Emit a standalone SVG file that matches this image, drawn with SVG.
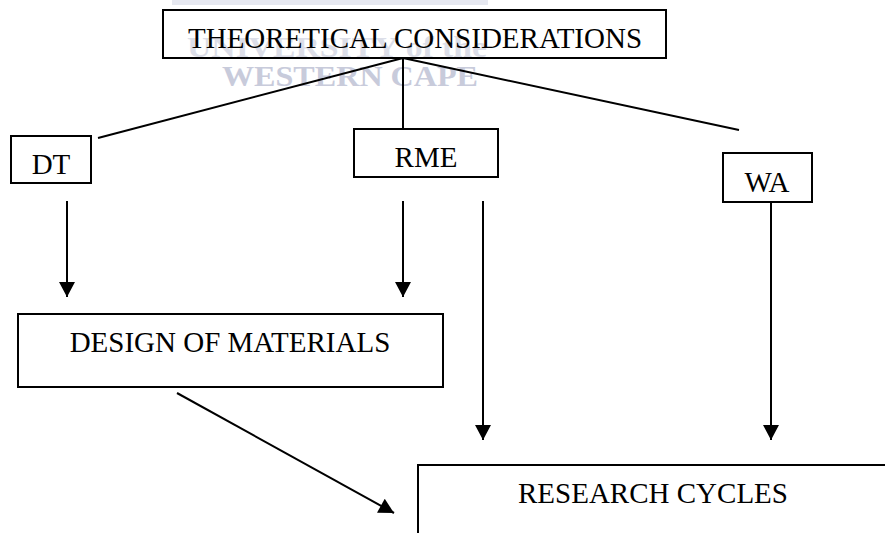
<svg xmlns="http://www.w3.org/2000/svg" width="885" height="533" viewBox="0 0 885 533">
<defs>
<style>
.box{fill:none;stroke:#000;stroke-width:2}
.lbl{font-family:"Liberation Serif","Times New Roman",serif;font-size:29px;fill:#000;text-anchor:middle}
.wm{font-family:"Liberation Serif","Times New Roman",serif;font-size:29px;font-weight:bold;fill:#c8cbdb}
.ln{stroke:#000;stroke-width:2;fill:none}
.arr{stroke:#000;stroke-width:2;fill:none;marker-end:url(#ah)}
</style>
<marker id="ah" markerUnits="userSpaceOnUse" markerWidth="16" markerHeight="16" viewBox="0 0 15 16" refX="15" refY="8" orient="auto">
<path d="M0,0 L15,8 L0,16 Z" fill="#000"/>
</marker>
</defs>
<rect x="0" y="0" width="885" height="533" fill="#fff"/>
<g id="watermark">
<rect x="172" y="0" width="316" height="5" fill="#e6e8f0"/>
<text class="wm" x="187" y="57" textLength="300" lengthAdjust="spacingAndGlyphs" style="fill:#dcdee8">UNIVERSITY of the</text>
<text class="wm" x="222" y="86" textLength="256" lengthAdjust="spacingAndGlyphs">WESTERN CAPE</text>
</g>
<g id="connectors">
<line class="ln" x1="403" y1="58" x2="98" y2="138"/>
<line class="ln" x1="403" y1="58" x2="403" y2="129"/>
<line class="ln" x1="403" y1="58" x2="739" y2="130"/>
<line class="arr" x1="67" y1="201" x2="67" y2="297"/>
<line class="arr" x1="403" y1="201" x2="403" y2="297"/>
<line class="arr" x1="483" y1="201" x2="483" y2="440"/>
<line class="arr" x1="771" y1="202" x2="771" y2="440"/>
<line class="arr" x1="177" y1="393" x2="394" y2="513"/>
</g>
<g id="theoretical">
<rect class="box" x="163" y="10" width="503" height="48"/>
<text class="lbl" x="415" y="48">THEORETICAL CONSIDERATIONS</text>
</g>
<g id="dt">
<rect class="box" x="11" y="136" width="80" height="47"/>
<text class="lbl" x="51" y="174">DT</text>
</g>
<g id="rme">
<rect class="box" x="354" y="129" width="144" height="48"/>
<text class="lbl" x="426" y="167">RME</text>
</g>
<g id="wa">
<rect class="box" x="723" y="153" width="89" height="49"/>
<text class="lbl" x="767" y="192">WA</text>
</g>
<g id="design">
<rect class="box" x="18" y="314" width="425" height="73"/>
<text class="lbl" x="230" y="352">DESIGN OF MATERIALS</text>
</g>
<g id="research">
<rect class="box" x="418" y="465" width="480" height="90"/>
<text class="lbl" x="653" y="503">RESEARCH CYCLES</text>
</g>
</svg>
